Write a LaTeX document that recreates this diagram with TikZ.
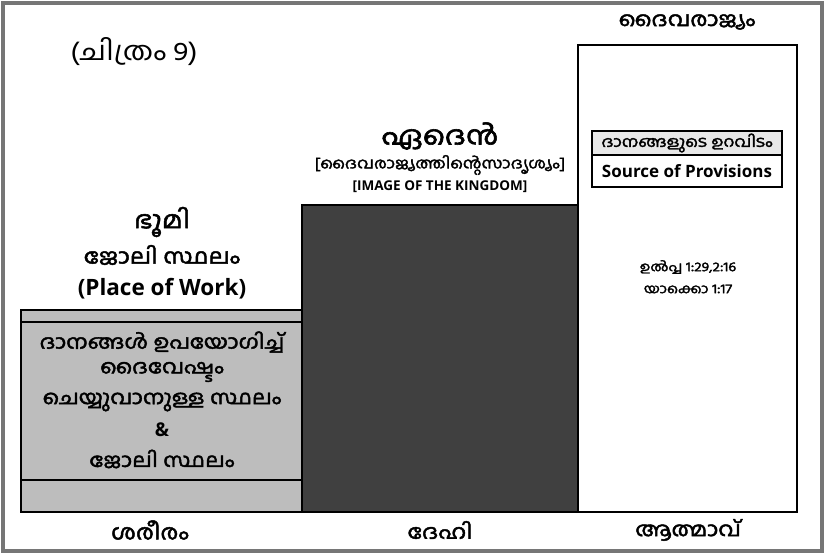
\documentclass[tikz,border=0pt]{standalone}
\usepackage{fontspec}
\newfontfamily\mal[Script=Malayalam, FakeStretch=1.15, AutoFakeBold=2.2]{Hind Kochi}
\newfontfamily\eng{Open Sans}
\definecolor{framegray}{HTML}{767676}
\definecolor{earthgray}{HTML}{BDBDBD}
\definecolor{edendark}{HTML}{404040}
\definecolor{cellgray}{HTML}{E8E8E8}
\begin{document}
\begin{tikzpicture}[x=1pt,y=-1pt]
    \tikzset{Head/.style={%
            font=\mal\bfseries\fontsize{20}{24}\selectfont,%
            inner sep=0pt,%
            anchor=center,%
        },
        Body/.style={Head, font=\mal\bfseries\fontsize{19.5}{23}\selectfont},
        Small/.style={Head, font=\mal\bfseries\fontsize{13}{15}\selectfont},
        Eng/.style={inner sep=0pt, font=\eng\bfseries\fontsize{12}{14}\selectfont},
        Column/.style={draw=black, line width=1.2pt},
    }
    \useasboundingbox (0,0) rectangle (825,554);
    \fill[white] (0,0) rectangle (825,554);
    \draw[framegray, line width=4pt] (3,3) rectangle (822,551);

    % columns
    \draw[Column, fill=earthgray] (21,310) rectangle (302,512);
    \draw[line width=1.2pt] (21,322) -- (302,322);
    \draw[line width=1.2pt] (21,480) -- (302,480);
    \draw[Column, fill=edendark] (302,205) rectangle (578,512);
    \draw[Column, fill=white] (578,45) rectangle (797,512);

    % provisions box
    \draw[Column, fill=cellgray] (592,131) rectangle (782,155);
    \draw[Column, fill=white] (592,155) rectangle (782,187);

    % texts
    \node[inner sep=0pt, font=\mal\fontsize{26}{30}\selectfont] (fig) at (134,52) {(ചിത്രം 9)};
    \node[Head] (kingdom) at (687,22) {ദൈവരാജ്യം};
    \node[Head, font=\mal\bfseries\fontsize{26}{30}\selectfont] (eden) at (440,136) {ഏദെൻ};
    \node[Body, font=\mal\bfseries\fontsize{15}{17}\selectfont] (likeness) at (440,165) {[ദൈവരാജ്യത്തിന്റെസാദൃശ്യം]};
    \node[Eng, font=\eng\bfseries\fontsize{13.5}{15}\selectfont] (image) at (440,187) {[IMAGE OF THE KINGDOM]};
    \node[Head, font=\mal\bfseries\fontsize{24}{28}\selectfont] (earth) at (162,222) {ഭൂമി};
    \node[Head, font=\mal\bfseries\fontsize{21}{24}\selectfont] (work) at (162,255) {ജോലി സ്ഥലം};
    \node[Eng, font=\eng\bfseries\fontsize{22.5}{26}\selectfont] (place) at (162,289) {(Place of Work)};

    \node[Body] (gift1) at (162,342) {ദാനങ്ങൾ ഉപയോഗിച്ച്};
    \node[Body] (gift2) at (162,372) {ദൈവേഷ്ടം};
    \node[Body] (gift3) at (162,402) {ചെയ്യുവാനുള്ള സ്ഥലം};
    \node[Eng, font=\eng\bfseries\fontsize{19}{22}\selectfont] (amp) at (162,430) {\&};
    \node[Body] (gift4) at (162,459) {ജോലി സ്ഥലം};

    \node[Small, font=\mal\bfseries\fontsize{15}{16}\selectfont] (source) at (687,143) {ദാനങ്ങളുടെ ഉറവിടം};
    \node[Eng, font=\eng\bfseries\fontsize{17}{19}\selectfont] (provisions) at (687,171) {Source of Provisions};
    \node[Small] (gen) at (688,267) {ഉൽപ്പ 1:29,2:16};
    \node[Small] (jas) at (688,289) {യാക്കൊ 1:17};

    \node[Head, font=\mal\bfseries\fontsize{21}{24}\selectfont] (body) at (150,530) {ശരീരം};
    \node[Head] (soul) at (440,530) {ദേഹി};
    \node[Head] (spirit) at (688,530) {ആത്മാവ്};
\end{tikzpicture}
\end{document}
